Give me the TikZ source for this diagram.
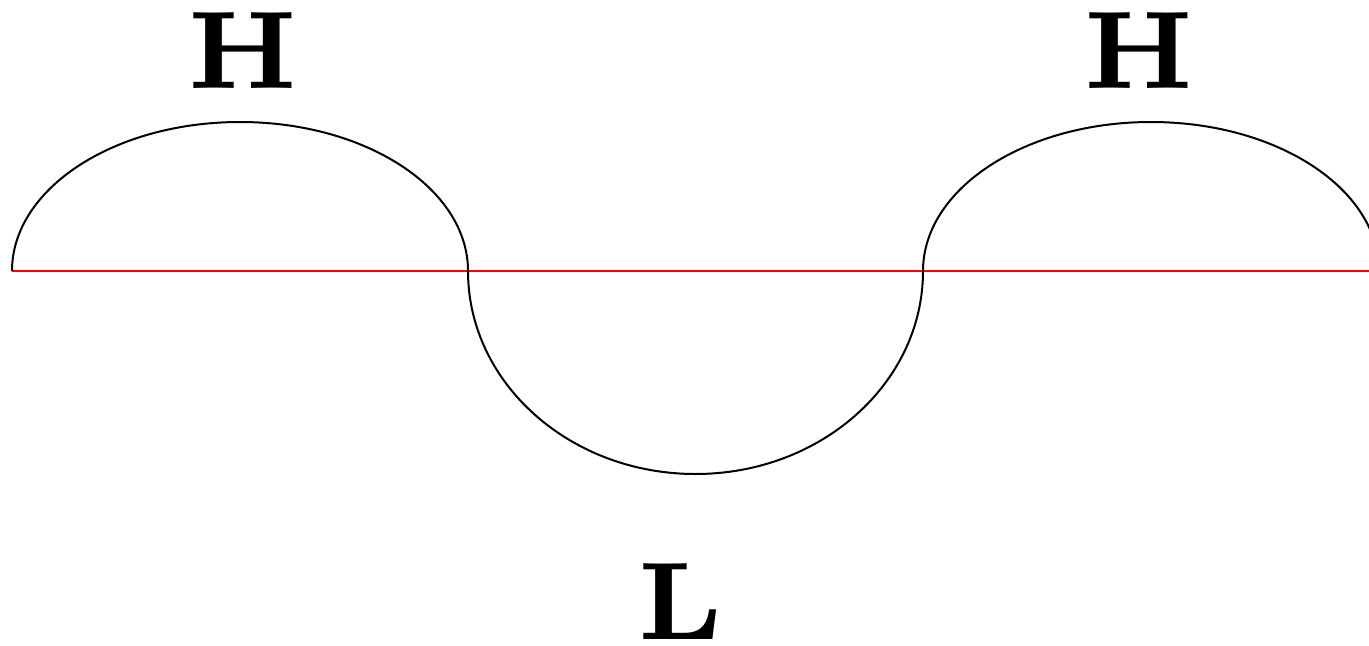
\documentclass[tikz,border=0pt]{standalone}
\begin{document}
\begin{tikzpicture}[x=0.5pt,y=0.5pt,
  lbl/.style={font=\fontsize{7}{8}\selectfont\bfseries,anchor=base,inner sep=0pt,scale=7.9},
  curve/.style={black,line width=1pt},
  axis/.style={red,line width=1pt}]
\useasboundingbox (0,0) rectangle (1369,645);
\coordinate (a) at (12,374);
\coordinate (b) at (468,374);
\coordinate (c) at (923,374);
\coordinate (e) at (1369,374);
\begin{scope}
\clip (0,0) rectangle (1369,645);
\draw[axis] (a) -- (e);
\draw[curve] (a) arc[start angle=180,end angle=0,x radius=228,y radius=149];
\draw[curve] (b) arc[start angle=180,end angle=360,x radius=227.5,y radius=203];
\draw[curve] (c) arc[start angle=180,end angle=0,x radius=228,y radius=149];
\end{scope}
\node[lbl] (h1) at (243,557) {H};
\node[lbl] (h2) at (1139,557) {H};
\node[lbl] (l) at (680,6) {L};
\end{tikzpicture}
\end{document}
